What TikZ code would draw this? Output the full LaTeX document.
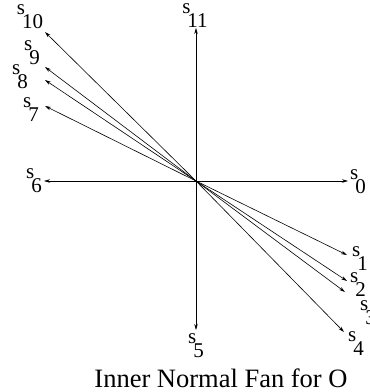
\documentclass[tikz,border=0pt]{standalone}
\usepackage{fontspec}
\setmainfont{Liberation Serif}
\usetikzlibrary{arrows.meta}
\newcommand{\slbl}[1]{s\hspace{-0.15em}\raisebox{-0.67em}{#1}}

\begin{document}
\begin{tikzpicture}[x=1pt, y=-1pt,
    every node/.style={font=\fontsize{21}{24}\selectfont, inner sep=0pt},
    ray/.style={-{Stealth[length=6pt,width=3.5pt]}, line width=0.6pt}]
    \useasboundingbox (0,0) rectangle (370,392);
    % origin of the fan
    \coordinate (o) at (196,181);
    % ray tips
    \coordinate (t0) at (348,181);
    \coordinate (t1) at (347,255);
    \coordinate (t2) at (347,281);
    \coordinate (t3) at (345,292);
    \coordinate (t4) at (344,332);
    \coordinate (t5) at (196,330);
    \coordinate (t6) at (44,181);
    \coordinate (t7) at (45,106);
    \coordinate (t8) at (45,80);
    \coordinate (t9) at (45,67);
    \coordinate (t10) at (45,32);
    \coordinate (t11) at (196,28);

    \foreach \i in {0,...,11}
        \draw[ray] (o) -- (t\i);

    % ray labels
    \node (s0) at (358,182) {\slbl{0}};
    \node (s1) at (360,259) {\slbl{1}};
    \node (s2) at (358,285) {\slbl{2}};
    \node (s3) at (368,313) {\slbl{3}};
    \node (s4) at (356,344) {\slbl{4}};
    \node (s5) at (196,346) {\slbl{5}};
    \node (s6) at (34,181) {\slbl{6}};
    \node (s7) at (31,110) {\slbl{7}};
    \node (s8) at (20,77) {\slbl{8}};
    \node (s9) at (32,53) {\slbl{9}};
    \node (s10) at (30,17) {\slbl{10}};
    \node (s11) at (195,16) {\slbl{11}};

    % caption
    \node[font=\fontsize{26.5}{30}\selectfont] (title) at (221,378) {Inner Normal Fan for O};
\end{tikzpicture}
\end{document}
